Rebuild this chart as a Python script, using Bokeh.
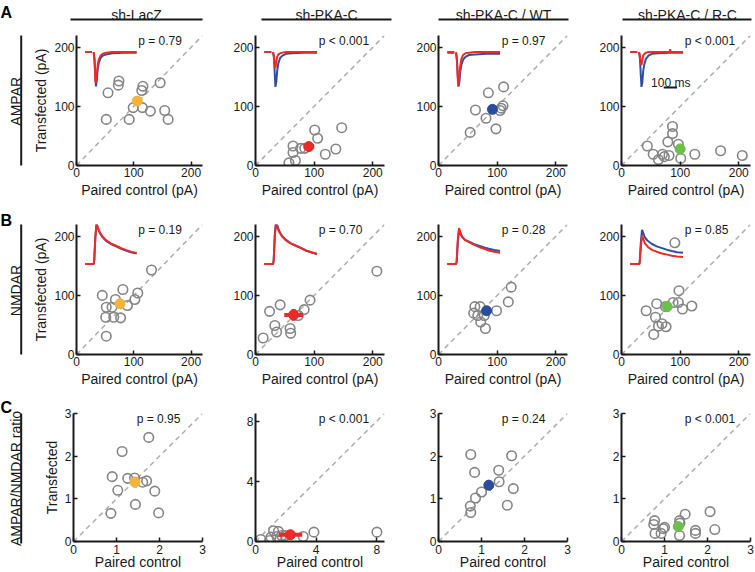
import math
from bokeh.plotting import figure
from bokeh.models import Range1d, Label, FixedTicker
from bokeh.layouts import row, column
from bokeh.embed import file_html
from bokeh.resources import INLINE
from bokeh.core.properties import value

FONT = "Liberation Sans"
nan = float("nan")

# ---------------- data ----------------
groups = ["sh-LacZ", "sh-PKA-C", "sh-PKA-C / WT", "sh-PKA-C / R-C"]
row_names = ["AMPAR", "NMDAR", "AMPAR/NMDAR ratio"]
letters = ["A", "B", "C"]
group_colors = ["#F7B23A", "#EC2A26", "#2C4D9E", "#6CBF4A"]

# Row A: AMPAR amplitudes (pA)
A_lacz_x = [55, 73, 74, 52, 92, 99, 114, 116, 115, 129, 146, 154, 160]
A_lacz_y = [123, 136, 143, 78, 78, 98, 127, 134, 98, 92, 140, 93, 78]
A_pkac_x = [101, 106, 147, 64, 64, 77, 84, 57, 68, 119, 137]
A_pkac_y = [60, 46, 64, 33, 22, 29, 29, 4.5, 8.5, 19, 28]
A_wt_x = [85, 111, 63, 81, 54, 98, 105, 107, 110]
A_wt_y = [123, 133, 94, 80, 56, 62, 93, 97, 101]
A_rc_x = [87, 87, 79, 44, 54, 63, 70, 73, 81, 97, 101, 125, 169, 206]
A_rc_y = [66, 54, 40, 33, 19, 10, 19, 15, 17, 36, 12, 19, 25, 17]

# Row B: NMDAR amplitudes (pA)
B_lacz_x = [131, 45, 52, 62, 68, 81, 51, 65, 77, 89, 102, 107, 52]
B_lacz_y = [143, 100, 80, 80, 93, 110, 63, 63, 62, 83, 93, 104, 31]
B_pkac_x = [207, 24, 42, 33, 36, 13, 59, 60, 73, 83, 93]
B_pkac_y = [141, 73, 84, 49, 38, 28, 44, 36, 66, 76, 92]
B_wt_x = [124, 119, 99, 62, 71, 60, 67, 78, 72, 80]
B_wt_y = [114, 89, 74, 81, 81, 70, 66, 66, 55, 44]
B_rc_x = [91, 98, 88, 97, 104, 120, 42, 60, 58, 63, 69, 76, 55, 75]
B_rc_y = [189, 108, 88, 88, 77, 82, 74, 86, 63, 48, 52, 47, 34, 81]

# Row C: AMPAR/NMDAR ratio
C_lacz_x = [1.75, 1.13, 0.90, 1.26, 1.42, 1.61, 1.70, 1.03, 1.89, 1.44, 0.87, 1.98]
C_lacz_y = [2.44, 2.11, 1.52, 1.48, 1.49, 1.39, 1.42, 1.20, 1.18, 0.87, 0.66, 0.67]
C_pkac_x = [0.35, 0.93, 1.02, 1.19, 1.51, 1.41, 1.73, 1.97, 3.14, 3.85, 8.0]
C_pkac_y = [0.13, 0.07, 0.29, 0.71, 0.67, 0.33, 0.40, 0.40, 0.33, 0.62, 0.62]
C_wt_x = [0.75, 0.84, 1.70, 1.40, 1.41, 1.74, 1.0, 0.86, 0.74, 0.75, 1.60]
C_wt_y = [2.04, 1.62, 2.01, 1.67, 1.40, 1.24, 1.16, 1.02, 0.83, 0.68, 0.85]
C_rc_x = [0.77, 0.75, 0.78, 0.92, 0.97, 1.0, 1.35, 1.36, 1.35, 1.48, 1.72, 1.72, 2.06, 2.17]
C_rc_y = [0.49, 0.40, 0.19, 0.19, 0.30, 0.33, 0.49, 0.43, 0.14, 0.64, 0.26, 0.19, 0.70, 0.28]

# means and SEM (x, y, xerr, yerr)
A_means = [(106, 109, 8, 5), (91, 32, 9, 4), (92, 95, 5, 5), (100, 28, 8, 4)]
B_means = [(76, 86, 5, 6), (65, 67, 16, 10), (82, 74, 4, 4), (78, 81, 5, 9)]
C_means = [(1.43, 1.39, 0.07, 0.13), (2.3, 0.45, 0.78, 0.1), (1.17, 1.32, 0.1, 0.12), (1.32, 0.35, 0.1, 0.06)]

p_values = [["p = 0.79", "p < 0.001", "p = 0.97", "p < 0.001"],
            ["p = 0.19", "p = 0.70", "p = 0.28", "p = 0.85"],
            ["p = 0.95", "p < 0.001", "p = 0.24", "p < 0.001"]]

# example traces (drawn in panel units): blue = control, red = transfected
ampa_t = [15, 27, nan, 30, 31.5, 33, 34, 35.5, 37, 39, 42, 46, 52, 62, 82, 83, 84, 105]
ampa_blue = [
    [192, 192, nan, 192, 180, 150, 134, 145, 162, 174, 182, 186, 188, 190, 191, 191, 191, 191],
    [192, 192, nan, 192, 182, 152, 133, 142, 160, 173, 182, 186, 189, 190, 191, 191, 191, 191],
    [191, 191, nan, 191, 178, 150, 134, 140, 158, 170, 179, 184, 187, 188, 189, 189, 189, 189],
    [192, 192, nan, 192, 180, 152, 133, 140, 160, 172, 181, 186, 189, 190, 191, 191, 191, 191],
]
ampa_red = [
    [192, 192, nan, 192, 176, 142, 140, 155, 170, 180, 186, 189, 191, 192, 192, 192, 192, 192],
    [192, 192, nan, 192, 184, 168, 165, 175, 184, 188, 190, 191, 192, 192, 192, 192, 192, 192],
    [192, 192, nan, 192, 176, 145, 134, 148, 168, 180, 187, 190, 191, 192, 192, 192, 192, 192],
    [192, 192, nan, 192, 184, 173, 170, 178, 186, 189, 191, 192, 192, 192, 192, 197, 192, 192],
]
nmda_t = [15, 30, 31, 33, 35, 37, 40, 45, 52, 60, 69, 78, 86, 95, 105]
nmda_blue = [
    [153, 153, 160, 200, 221, 215, 207, 199, 192, 187, 183, 179, 176, 173, 171],
    [153, 153, 160, 205, 226, 219, 210, 201, 194, 188, 184, 180, 176, 173, 170],
    [153, 153, 157, 192, 210, 206, 199, 194, 191, 187, 184, 181, 179, 177, 175],
    [153, 153, 156, 190, 211, 206, 198, 192, 187, 183, 180, 177, 175, 173, 172],
]
nmda_red = [
    [153, 153, 160, 200, 222, 216, 208, 200, 193, 188, 184, 180, 177, 174, 172],
    [153, 153, 158, 200, 221, 216, 208, 200, 193, 188, 184, 180, 176, 173, 170],
    [153, 153, 158, 195, 214, 208, 200, 194, 190, 186, 182, 179, 176, 174, 172],
    [153, 153, 155, 182, 201, 196, 188, 182, 177, 174, 171, 169, 167, 166, 165],
]

# ---------------- layout constants ----------------
col_w = [195, 183, 183, 164]
col_bl = [43, 30, 30, 30]
col_br = [23, 24, 24, 5]
row_h = [189, 189, 166]
row_bt = [7, 7, 7]
row_bb = [52, 52, 29]
x_tick_standoff = [2, 2, 3]
x_label_standoff = [2, 2, -3]
TRACE_BLUE = "#2D4FA6"
TRACE_RED = "#EE2A24"
INK = "#1a1a1a"

scatter_x = [[A_lacz_x, A_pkac_x, A_wt_x, A_rc_x],
             [B_lacz_x, B_pkac_x, B_wt_x, B_rc_x],
             [C_lacz_x, C_pkac_x, C_wt_x, C_rc_x]]
scatter_y = [[A_lacz_y, A_pkac_y, A_wt_y, A_rc_y],
             [B_lacz_y, B_pkac_y, B_wt_y, B_rc_y],
             [C_lacz_y, C_pkac_y, C_wt_y, C_rc_y]]
means = [A_means, B_means, C_means]


def style_axis(ax, ticks):
    ax.ticker = FixedTicker(ticks=ticks)
    ax.axis_line_width = 2
    ax.axis_line_color = INK
    ax.major_tick_in = 4
    ax.major_tick_out = 0
    ax.major_tick_line_width = 1.5
    ax.major_tick_line_color = INK
    ax.minor_tick_line_color = None
    ax.major_label_text_font = FONT
    ax.major_label_text_font_size = "12px"
    ax.major_label_text_color = INK
    ax.major_label_standoff = 2
    ax.axis_label_text_font = FONT
    ax.axis_label_text_font_size = "14px"
    ax.axis_label_text_font_style = "normal"
    ax.axis_label_text_color = INK
    ax.axis_label_standoff = 2


def make_panel(r, c):
    if r < 2:
        xmax = ymax = 220
        ticks = [0, 100, 200]
    elif c == 1:
        xmax = ymax = 8.5
        ticks = [0, 4, 8]
    else:
        xmax = ymax = 3
        ticks = [0, 1, 2, 3]
    p = figure(width=col_w[c], height=row_h[r], title=None,
               x_range=Range1d(0, xmax), y_range=Range1d(0, ymax),
               output_backend="svg", toolbar_location=None,
               min_border_left=col_bl[c], min_border_right=col_br[c],
               min_border_top=row_bt[r], min_border_bottom=row_bb[r])
    p.outline_line_color = None
    p.grid.visible = False
    p.background_fill_color = "white"
    p.border_fill_color = "white"
    style_axis(p.xaxis[0], ticks)
    style_axis(p.yaxis[0], ticks)
    p.xaxis[0].major_label_standoff = x_tick_standoff[r]
    p.xaxis[0].axis_label_standoff = x_label_standoff[r]
    p.xaxis[0].axis_label = "Paired control (pA)" if r < 2 else "Paired control"
    if c == 0:
        p.yaxis[0].axis_label = "Transfected (pA)" if r < 2 else "Transfected"

    # identity line
    p.line([0, xmax], [0, ymax], line_color="#ADADAD", line_width=1.5, line_dash="5 4")

    # example traces
    if r == 0:
        p.line(ampa_t, ampa_blue[c], line_color=TRACE_BLUE, line_width=2)
        p.line(ampa_t, ampa_red[c], line_color=TRACE_RED, line_width=2)
    elif r == 1:
        p.line(nmda_t, nmda_blue[c], line_color=TRACE_BLUE, line_width=2)
        p.line(nmda_t, nmda_red[c], line_color=TRACE_RED, line_width=2)

    # individual pairs
    p.scatter(scatter_x[r][c], scatter_y[r][c], size=9.5, marker="circle",
              fill_color=None, line_color="#858585", line_width=1.6)

    # mean +/- sem
    mx, my, ex, ey = means[r][c]
    col = group_colors[c]
    p.segment([mx - ex], [my], [mx + ex], [my], line_color=col, line_width=4)
    p.segment([mx], [my - ey], [mx], [my + ey], line_color=col, line_width=4)
    p.scatter([mx], [my], size=10, marker="circle", fill_color=col, line_color=col)

    # p value
    p.add_layout(Label(x=0.49 * xmax, y=0.955 * ymax, text=p_values[r][c],
                       text_font=FONT, text_font_size="12px", text_color=INK,
                       text_align="left", text_baseline="alphabetic"))

    # scale bar
    if r == 0 and c == 3:
        p.segment([72], [132], [94.7], [132], line_color=INK, line_width=2)
        p.add_layout(Label(x=84, y=139, text="100 ms", text_font=FONT,
                           text_font_size="12px", text_color=INK,
                           text_align="center", text_baseline="alphabetic"))
    return p


grid_rows = [row([make_panel(r, c) for c in range(4)], spacing=0) for r in range(3)]
grid = column(grid_rows, spacing=0)

# header with column titles
hdr = figure(width=755, height=28, title=None, x_range=Range1d(0, 755), y_range=Range1d(28, 0),
             output_backend="svg", toolbar_location=None, x_axis_type=None, y_axis_type=None,
             min_border=0, min_border_left=0, min_border_right=0, min_border_top=0, min_border_bottom=0)
hdr.outline_line_color = None
title_cx = [136, 326, 503, 687]
rule_x0 = [70, 261, 438, 622]
rule_x1 = [202, 391, 568, 751]
hdr.text(x=title_cx, y=[14.7] * 4, text=groups, text_font=value(FONT), text_font_size="14px",
         text_color=INK, text_align="center", text_baseline="alphabetic")
hdr.segment(rule_x0, [19] * 4, rule_x1, [19] * 4, line_color=INK, line_width=2)
hdr.text(x=[0], y=[11.7], text=[letters[0]], text_font=value(FONT), text_font_size="16px",
         text_font_style="bold", text_color="black", text_align="left", text_baseline="alphabetic")

# left strip with row labels
left = figure(width=30, height=544, title=None, x_range=Range1d(0, 30), y_range=Range1d(572, 28),
              output_backend="svg", toolbar_location=None, x_axis_type=None, y_axis_type=None,
              min_border=0, min_border_left=0, min_border_right=0, min_border_top=0, min_border_bottom=0)
left.outline_line_color = None
left.text(x=[0, 0], y=[220, 406.7], text=letters[1:], text_font=value(FONT), text_font_size="16px",
          text_font_style="bold", text_color="black", text_align="left", text_baseline="alphabetic")
left.text(x=[15, 15, 15], y=[100.8, 290, 478], text=row_names, angle=math.pi / 2,
          text_font=value(FONT), text_font_size="14px", text_color=INK,
          text_align="center", text_baseline="alphabetic")
left.segment([20.7] * 3, [35, 224, 413], [20.7] * 3, [165, 354, 543], line_color=INK, line_width=2)

root = column(hdr, row(left, grid, spacing=0), spacing=0)

open("out.html", "w").write(file_html(root, INLINE))
